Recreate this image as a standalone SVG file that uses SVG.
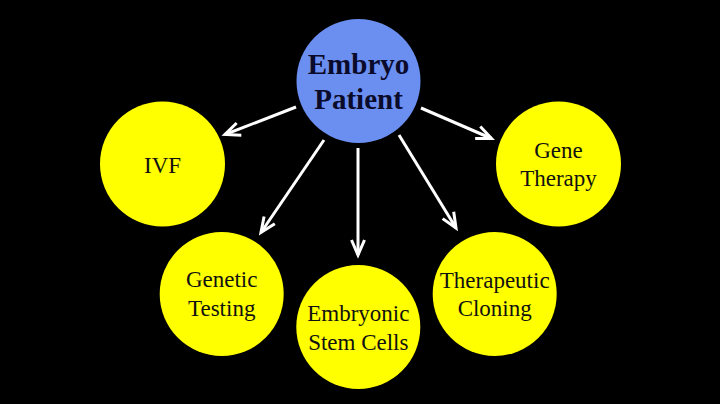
<svg xmlns="http://www.w3.org/2000/svg" width="720" height="404" viewBox="0 0 720 404">
<style>
.bg{fill:#000}
.hub{fill:#6B8FF0}
.leaf{fill:#FFFF00}
.hubtxt{font-family:"Liberation Serif",serif;font-weight:bold;font-size:29px;fill:#0A0A2A;text-anchor:middle}
.txt{font-family:"Liberation Serif",serif;font-size:23px;fill:#111;text-anchor:middle}
.conn{stroke:#fff;stroke-width:3;fill:none;marker-end:url(#arr)}
</style>
<defs>
<marker id="arr" markerUnits="userSpaceOnUse" viewBox="-20 -10 24 20" refX="0" refY="0" markerWidth="24" markerHeight="20" orient="auto">
<path d="M-15,-6.5 L0,0 L-15,6.5" stroke="#fff" stroke-width="3" fill="none" stroke-linejoin="miter"/>
</marker>
</defs>
<rect class="bg" x="0" y="0" width="720" height="404"/>
<g id="connectors">
<line class="conn" x1="296" y1="107" x2="225" y2="134.5"/>
<line class="conn" x1="421" y1="108" x2="491.5" y2="138.5"/>
<line class="conn" x1="324" y1="140" x2="261" y2="232.5"/>
<line class="conn" x1="358" y1="148" x2="358" y2="255"/>
<line class="conn" x1="399" y1="135" x2="456" y2="228"/>
</g>
<g id="embryo-patient">
<circle class="hub" cx="358.5" cy="81" r="62"/>
<text class="hubtxt" x="358.5" y="74">Embryo</text>
<text class="hubtxt" x="358.5" y="109">Patient</text>
</g>
<g id="ivf">
<circle class="leaf" cx="162.5" cy="164" r="62.5"/>
<text class="txt" x="162.5" y="172.5">IVF</text>
</g>
<g id="gene-therapy">
<circle class="leaf" cx="558.5" cy="164" r="62.5"/>
<text class="txt" x="558.5" y="157.5">Gene</text>
<text class="txt" x="558.5" y="185.5">Therapy</text>
</g>
<g id="genetic-testing">
<circle class="leaf" cx="221.7" cy="294" r="62"/>
<text class="txt" x="221.7" y="287">Genetic</text>
<text class="txt" x="221.7" y="316">Testing</text>
</g>
<g id="embryonic-stem-cells">
<circle class="leaf" cx="358.3" cy="327" r="62"/>
<text class="txt" x="358.3" y="321">Embryonic</text>
<text class="txt" x="358.3" y="349.5">Stem Cells</text>
</g>
<g id="therapeutic-cloning">
<circle class="leaf" cx="494.7" cy="294" r="62"/>
<text class="txt" x="494.7" y="287.5">Therapeutic</text>
<text class="txt" x="494.7" y="316">Cloning</text>
</g>
</svg>
